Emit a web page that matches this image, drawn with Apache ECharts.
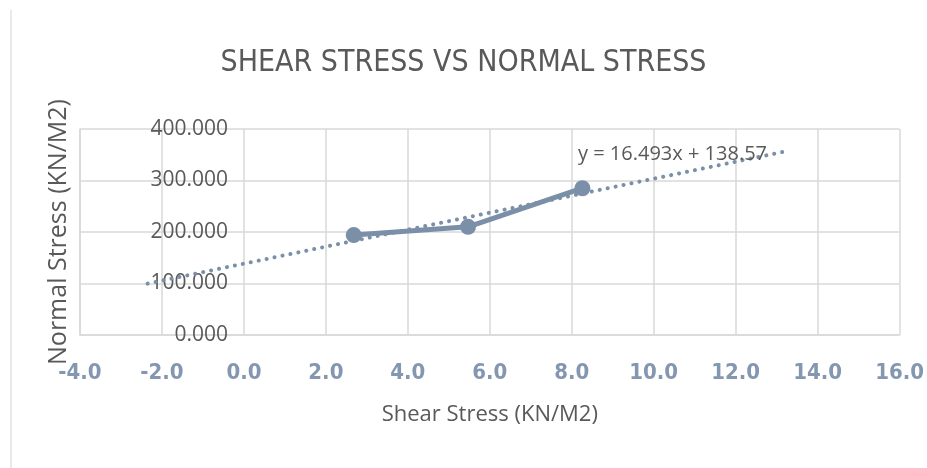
<!DOCTYPE html>
<html>
<head>
<meta charset="utf-8">
<script src="https://cdn.jsdelivr.net/npm/echarts@6/dist/echarts.min.js"></script>
<style>
  html, body { margin: 0; padding: 0; background: #fff; }
  #Mycharts { width: 927px; height: 468px; }
</style>
</head>
<body>
<div id="Mycharts"></div>
<script>
// 数据
const shearStress = [2.68, 5.47, 8.26]
const normalStress = [194, 210, 285]
// trendline end points (y = 16.493x + 138.57)
const trendX = [-2.35, 13.25]
const trendY = [99.8, 357.1]
const trendLabel = 'y = 16.493x + 138.57'

const xTicks = { min: -4, max: 16, interval: 2 }
const yTicks = { min: 0, max: 400, interval: 100 }

let Mycharts = echarts.init(document.getElementById('Mycharts'))
Mycharts.setOption({
  animation: false,
  backgroundColor: '#fff',
  title: {
    text: 'SHEAR STRESS VS NORMAL STRESS',
    left: 'center',
    top: 43,
    textStyle: {
      fontFamily: "'Liberation Sans Narrow', 'DejaVu Sans Condensed', sans-serif",
      fontWeight: 'normal',
      fontSize: 30,
      color: '#595959'
    }
  },
  grid: {
    left: 80,
    right: 23,
    top: 129,
    bottom: 133
  },
  xAxis: {
    type: 'value',
    min: xTicks.min,
    max: xTicks.max,
    interval: xTicks.interval,
    name: 'Shear Stress (KN/M2)',
    nameLocation: 'middle',
    nameGap: 69,
    nameTextStyle: { fontFamily: 'Open Sans', fontSize: 22, color: '#595959' },
    axisLine: { onZero: false, lineStyle: { color: '#d9d9d9', width: 1.5 } },
    axisTick: { show: false },
    splitLine: { lineStyle: { color: '#d9d9d9', width: 1.5 } },
    axisLabel: {
      margin: 27,
      fontFamily: "'Liberation Sans Narrow', 'DejaVu Sans Condensed', sans-serif",
      fontWeight: 'bold',
      fontSize: 22,
      color: '#8497b0',
      formatter: v => v.toFixed(1)
    }
  },
  yAxis: {
    type: 'value',
    min: yTicks.min,
    max: yTicks.max,
    interval: yTicks.interval,
    name: 'Normal Stress (KN/M2)',
    nameLocation: 'middle',
    nameGap: 9,
    nameTextStyle: { fontFamily: 'Open Sans', fontSize: 25, color: '#595959' },
    axisLine: { show: true, onZero: false, lineStyle: { color: '#d9d9d9', width: 1.5 } },
    axisTick: { show: false },
    splitLine: { lineStyle: { color: '#d9d9d9', width: 1.5 } },
    axisLabel: {
      margin: -148,
      fontFamily: 'Open Sans',
      fontSize: 21,
      color: '#595959',
      formatter: v => v.toFixed(3)
    }
  },
  graphic: [
    {
      type: 'text',
      left: 578,
      top: 144,
      z: 10,
      style: { text: trendLabel, font: '20px "Open Sans"', fill: '#595959' }
    },
    {
      type: 'line',
      shape: { x1: 11, y1: 10, x2: 11, y2: 468 },
      style: { stroke: '#e3e3e3', lineWidth: 1.5 }
    }
  ],
  series: [
    {
      name: 'trend',
      type: 'line',
      data: trendX.map((x, i) => [x, trendY[i]]),
      symbol: 'none',
      lineStyle: { color: '#7b8fa8', width: 4, type: [0.1, 8], cap: 'round' },
      z: 3
    },
    {
      name: 'stress',
      type: 'line',
      data: shearStress.map((x, i) => [x, normalStress[i]]),
      symbol: 'circle',
      symbolSize: 16,
      itemStyle: { color: '#7b8fa8' },
      lineStyle: { color: '#7b8fa8', width: 5 },
      z: 2
    }
  ]
})
</script>
</body>
</html>
